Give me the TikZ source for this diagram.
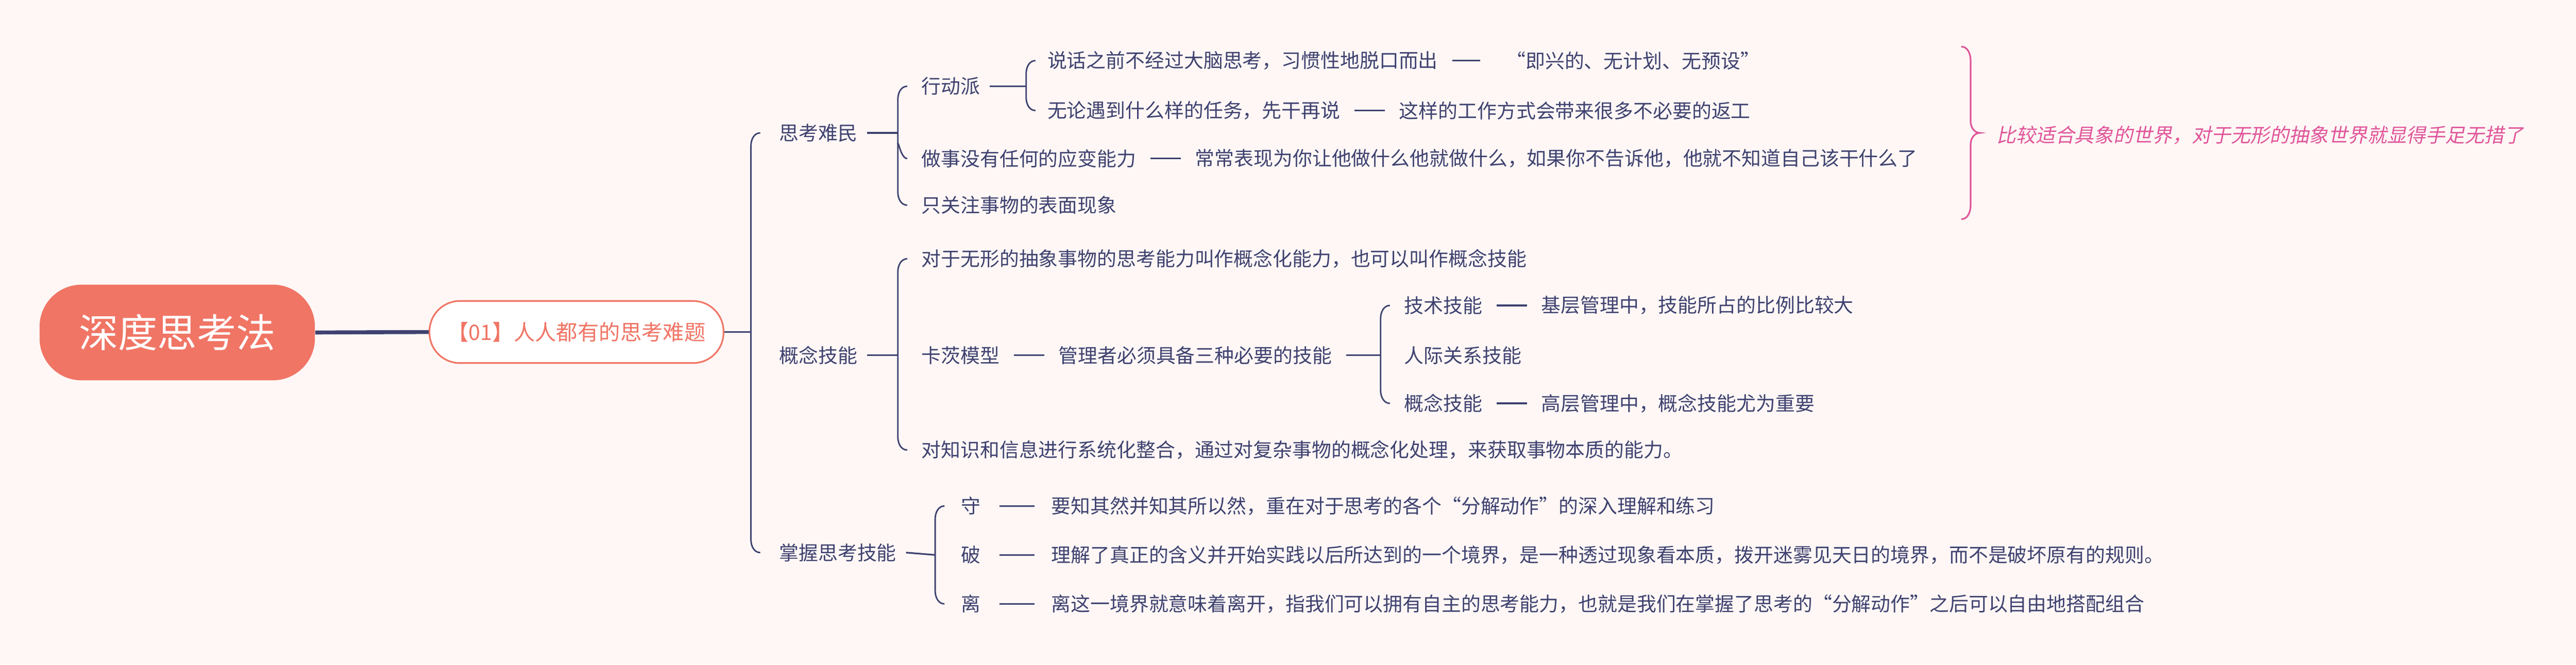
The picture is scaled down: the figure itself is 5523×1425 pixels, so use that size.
\documentclass[tikz,border=0pt]{standalone}
\usepackage{fontspec}
\usetikzlibrary{positioning}
\setmainfont{Noto Sans CJK SC}
\newfontfamily\cjkit[FakeSlant=0.2]{Noto Sans CJK SC}
\definecolor{bg}{HTML}{FFF7F5}
\definecolor{navy}{HTML}{3F4270}
\definecolor{salmon}{HTML}{F07565}
\definecolor{pinkc}{HTML}{E0559A}
\tikzset{
  t/.style={anchor=west,inner sep=0pt,text=navy,font=\fontsize{11.9pt}{14pt}\selectfont},
  br/.style={draw=navy,line width=0.9pt},
  dsh/.style={draw=navy,line width=1pt},
}
\newcommand\mbrace[3]{\draw[br] (#1+20,#2) to[out=180,in=90] (#1,#2+28) -- (#1,#3-28) to[out=-90,in=180] (#1+20,#3);}
\newcommand\mdash[2]{\draw[dsh] ([xshift=0.3cm]#1.east) -- ([xshift=-0.3cm]#2.west);}
\begin{document}
\begin{tikzpicture}[x=0.01cm,y=-0.01cm]
\fill[bg] (0,0) rectangle (5523,1425);
% root
\node[fill=salmon,rounded corners=0.9cm,minimum width=5.9cm,minimum height=2.05cm,text=white,font=\fontsize{24pt}{28pt}\selectfont] (root) at (380,713) {深度思考法};
\node[fill=white,draw=salmon,line width=1pt,rounded corners=0.65cm,minimum width=6.3cm,minimum height=1.33cm,text=salmon,font=\fontsize{13pt}{15pt}\selectfont] (l1) at (1236,712) {【01】人人都有的思考难题};
\draw[navy,line width=2.4pt] (root.east) -- (l1.west);
% level 2
\node[t] (a) at (1670,285) {思考难民};
\node[t] (b) at (1670,762) {概念技能};
\node[t] (c) at (1670,1185) {掌握思考技能};
\draw[br] (l1.east) -- (1610,712);
\mbrace{1610}{285}{1185}
% 思考难民
\node[t] (a1) at (1975,185) {行动派};
\node[t] (a2) at (1975,340) {做事没有任何的应变能力};
\node[t,right=1.25cm of a2] (a2b) {常常表现为你让他做什么他就做什么，如果你不告诉他，他就不知道自己该干什么了};
\node[t] (a3) at (1975,440) {只关注事物的表面现象};
\draw[dsh] ([xshift=0.2cm]a.east) -- (1925,285);
\mbrace{1925}{185}{440}
\draw[br] (1925,310) to[out=90,in=180] (1945,340);
\mdash{a2}{a2b}
\node[t] (a11) at (2245,130) {说话之前不经过大脑思考，习惯性地脱口而出};
\node[t,right=1.45cm of a11] (a11b) {“即兴的、无计划、无预设”};
\node[t] (a12) at (2245,237) {无论遇到什么样的任务，先干再说};
\node[t,right=1.25cm of a12] (a12b) {这样的工作方式会带来很多不必要的返工};
\draw[dsh] ([xshift=0.2cm]a1.east) -- (2200,185);
\mbrace{2200}{130}{237}
\draw[dsh] ([xshift=0.3cm]a11.east) -- ([xshift=-0.55cm]a11b.west);
\mdash{a12}{a12b}
% pink brace
\draw[pinkc,line width=1pt] (4205,100) to[out=0,in=90] (4225,130) -- (4225,260) to[out=-90,in=180] (4245,285) to[out=180,in=90] (4225,310) -- (4225,440) to[out=-90,in=0] (4205,470);
\node[anchor=west,inner sep=0pt,text=pinkc,font=\cjkit\fontsize{11.9pt}{14pt}\selectfont] (note) at (4280,290) {比较适合具象的世界，对于无形的抽象世界就显得手足无措了};
% 概念技能
\node[t] (b1) at (1975,555) {对于无形的抽象事物的思考能力叫作概念化能力，也可以叫作概念技能};
\node[t] (b2) at (1975,762) {卡茨模型};
\node[t,right=1.25cm of b2] (b2b) {管理者必须具备三种必要的技能};
\node[t] (b3) at (1975,965) {对知识和信息进行系统化整合，通过对复杂事物的概念化处理，来获取事物本质的能力。};
\draw[dsh] ([xshift=0.2cm]b.east) -- (1925,762);
\mbrace{1925}{555}{965}
\mdash{b2}{b2b}
\node[t] (b21) at (3010,655) {技术技能};
\node[t,right=1.25cm of b21] (b21b) {基层管理中，技能所占的比例比较大};
\node[t] (b22) at (3010,762) {人际关系技能};
\node[t] (b23) at (3010,865) {概念技能};
\node[t,right=1.25cm of b23] (b23b) {高层管理中，概念技能尤为重要};
\draw[dsh] ([xshift=0.3cm]b2b.east) -- (2960,762);
\mbrace{2960}{655}{865}
\mdash{b21}{b21b}
\mdash{b23}{b23b}
% 掌握思考技能
\node[t] (c1) at (2060,1085) {守};
\node[t,right=1.5cm of c1] (c1b) {要知其然并知其所以然，重在对于思考的各个“分解动作”的深入理解和练习};
\node[t] (c2) at (2060,1190) {破};
\node[t,right=1.5cm of c2] (c2b) {理解了真正的含义并开始实践以后所达到的一个境界，是一种透过现象看本质，拨开迷雾见天日的境界，而不是破坏原有的规则。};
\node[t] (c3) at (2060,1295) {离};
\node[t,right=1.5cm of c3] (c3b) {离这一境界就意味着离开，指我们可以拥有自主的思考能力，也就是我们在掌握了思考的“分解动作”之后可以自由地搭配组合};
\draw[dsh] ([xshift=0.2cm]c.east) -- (2005,1190);
\mbrace{2005}{1085}{1295}
\draw[dsh] ([xshift=0.4cm]c1.east) -- ([xshift=-0.35cm]c1b.west);
\draw[dsh] ([xshift=0.4cm]c2.east) -- ([xshift=-0.35cm]c2b.west);
\draw[dsh] ([xshift=0.4cm]c3.east) -- ([xshift=-0.35cm]c3b.west);
\end{tikzpicture}
\end{document}
